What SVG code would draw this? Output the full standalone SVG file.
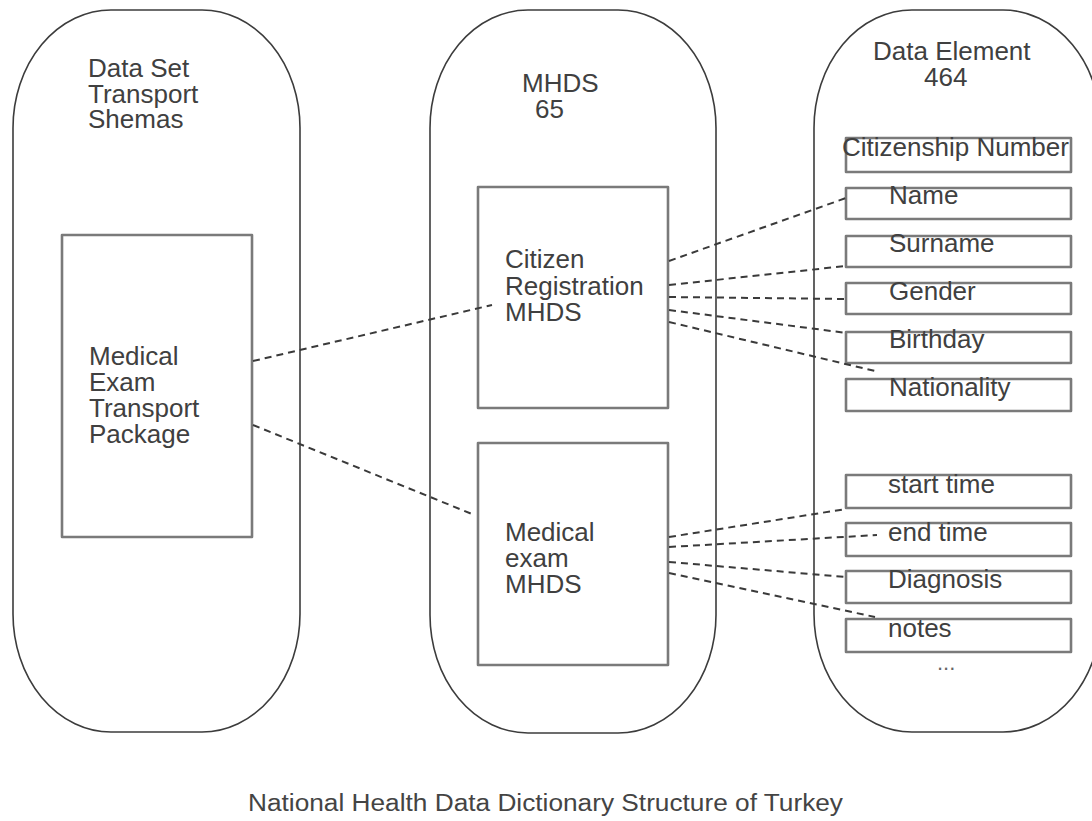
<svg xmlns="http://www.w3.org/2000/svg" width="1092" height="821" viewBox="0 0 1092 821">
  <style>
    .pill { fill: none; stroke: #3c3c3c; stroke-width: 1.6; }
    .box { fill: none; stroke: #7a7a7a; stroke-width: 2.6; stroke-linejoin: round; }
    .lbl { font-family: "Liberation Sans", Arial, sans-serif; font-size: 26px; fill: #404040; }
    .dash { fill: none; stroke: #3a3a3a; stroke-width: 2; stroke-dasharray: 7 5; }
  </style>
  <rect width="1092" height="821" fill="#ffffff"/>

  <!-- column 1: transport schemas -->
  <g id="col-transport">
    <rect class="pill" x="13" y="10" width="287" height="722" rx="98" ry="118"/>
    <text class="lbl" x="88" y="77">Data Set</text>
    <text class="lbl" x="88" y="103">Transport</text>
    <text class="lbl" x="88" y="128">Shemas</text>
  </g>
  <g id="node-package">
    <rect class="box" x="62" y="235" width="190" height="302"/>
    <text class="lbl" x="89" y="365">Medical</text>
    <text class="lbl" x="89" y="391">Exam</text>
    <text class="lbl" x="89" y="417">Transport</text>
    <text class="lbl" x="89" y="443">Package</text>
  </g>

  <!-- column 2: MHDS -->
  <g id="col-mhds">
    <rect class="pill" x="430" y="10" width="286" height="723" rx="98" ry="118"/>
    <text class="lbl" x="522" y="92">MHDS</text>
    <text class="lbl" x="535" y="118">65</text>
  </g>
  <g id="node-citizen">
    <rect class="box" x="478" y="187" width="190" height="221"/>
    <text class="lbl" x="505" y="268">Citizen</text>
    <text class="lbl" x="505" y="295">Registration</text>
    <text class="lbl" x="505" y="321">MHDS</text>
  </g>
  <g id="node-exam">
    <rect class="box" x="478" y="443" width="190" height="222"/>
    <text class="lbl" x="505" y="541">Medical</text>
    <text class="lbl" x="505" y="567">exam</text>
    <text class="lbl" x="505" y="593">MHDS</text>
  </g>

  <!-- column 3: data elements -->
  <g id="col-elements">
    <rect class="pill" x="814" y="10" width="287" height="722" rx="98" ry="118"/>
    <text class="lbl" x="873" y="60">Data Element</text>
    <text class="lbl" x="924" y="86">464</text>
    <text class="lbl" x="937" y="670" style="font-size:22px;fill:#666">...</text>
  </g>
  <g id="el-citizenship">
    <rect class="box" x="846" y="138" width="225" height="34"/>
    <text class="lbl" x="842" y="156">Citizenship Number</text>
  </g>
  <g id="el-name">
    <rect class="box" x="846" y="188" width="225" height="31"/>
    <text class="lbl" x="889" y="204">Name</text>
  </g>
  <g id="el-surname">
    <rect class="box" x="846" y="236" width="225" height="31"/>
    <text class="lbl" x="889" y="252">Surname</text>
  </g>
  <g id="el-gender">
    <rect class="box" x="846" y="283" width="225" height="31"/>
    <text class="lbl" x="889" y="300">Gender</text>
  </g>
  <g id="el-birthday">
    <rect class="box" x="846" y="332" width="225" height="31"/>
    <text class="lbl" x="889" y="348">Birthday</text>
  </g>
  <g id="el-nationality">
    <rect class="box" x="846" y="379" width="225" height="32"/>
    <text class="lbl" x="889" y="396">Nationality</text>
  </g>
  <g id="el-start">
    <rect class="box" x="846" y="475" width="225" height="33"/>
    <text class="lbl" x="888" y="493">start time</text>
  </g>
  <g id="el-end">
    <rect class="box" x="846" y="523" width="225" height="33"/>
    <text class="lbl" x="888" y="541">end time</text>
  </g>
  <g id="el-diagnosis">
    <rect class="box" x="846" y="571" width="225" height="32"/>
    <text class="lbl" x="888" y="588">Diagnosis</text>
  </g>
  <g id="el-notes">
    <rect class="box" x="846" y="619" width="225" height="33"/>
    <text class="lbl" x="888" y="637">notes</text>
  </g>

  <!-- dashed links -->
  <g id="connectors">
    <line class="dash" x1="253" y1="361" x2="492" y2="305"/>
    <line class="dash" x1="253" y1="425" x2="472" y2="514"/>
    <line class="dash" x1="669" y1="261" x2="846" y2="198"/>
    <line class="dash" x1="669" y1="285" x2="846" y2="266"/>
    <line class="dash" x1="669" y1="297" x2="846" y2="299"/>
    <line class="dash" x1="669" y1="310" x2="847" y2="333"/>
    <line class="dash" x1="669" y1="322" x2="875" y2="371"/>
    <line class="dash" x1="669" y1="537" x2="846" y2="509"/>
    <line class="dash" x1="669" y1="547" x2="877" y2="535"/>
    <line class="dash" x1="669" y1="562" x2="846" y2="577"/>
    <line class="dash" x1="669" y1="573" x2="875" y2="617"/>
  </g>

  <text id="caption" class="lbl" x="248" y="811" style="font-size:23px;fill:#444" textLength="595" lengthAdjust="spacingAndGlyphs">National Health Data Dictionary Structure of Turkey</text>
</svg>
